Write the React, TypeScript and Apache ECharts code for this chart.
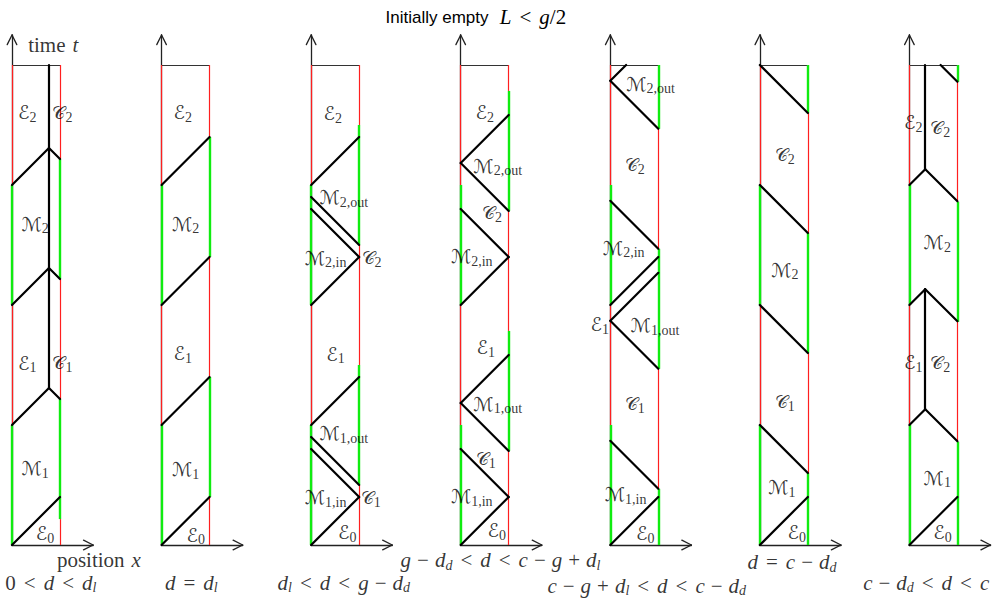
import React, { useEffect, useRef } from "react";
import * as echarts from "echarts";

// ---------------- data ----------------
// Each panel: wall colour segments [tStart, tEnd, colour], black world-lines [x1, t1, x2, t2],
// region labels [x, t, label] and a caption. x is position (0 = left wall, 1 = right wall), t is time.

const LEFT_WALL = [
  [[0, 2.5, "g"], [2.5, 5, "r"], [5, 7.5, "g"], [7.5, 10, "r"]],
  [[0, 2.5, "g"], [2.5, 5, "r"], [5, 7.5, "g"], [7.5, 10, "r"]],
  [[0, 2.5, "g"], [2.5, 5, "r"], [5, 7.5, "g"], [7.5, 10, "r"]],
  [[0, 2.5, "g"], [2.5, 5, "r"], [5, 7.5, "g"], [7.5, 10, "r"]],
  [[0, 2.5, "g"], [2.5, 5, "r"], [5, 7.5, "g"], [7.5, 10, "r"]],
  [[0, 2.5, "g"], [2.5, 5, "r"], [5, 7.5, "g"], [7.5, 10, "r"]],
  [[0, 2.5, "g"], [2.5, 5, "r"], [5, 7.5, "g"], [7.5, 10, "r"]],
];

const RIGHT_WALL = [
  [[0, 0.54, "r"], [0.54, 3.04, "g"], [3.04, 5.54, "r"], [5.54, 8.04, "g"], [8.04, 10, "r"]],
  [[0, 1, "r"], [1, 3.5, "g"], [3.5, 6, "r"], [6, 8.5, "g"], [8.5, 10, "r"]],
  [[0, 1.25, "r"], [1.25, 3.75, "g"], [3.75, 6.25, "r"], [6.25, 8.75, "g"], [8.75, 10, "r"]],
  [[0, 1.96, "r"], [1.96, 4.46, "g"], [4.46, 6.96, "r"], [6.96, 9.46, "g"], [9.46, 10, "r"]],
  [[0, 1.17, "g"], [1.17, 3.67, "r"], [3.67, 6.17, "g"], [6.17, 8.67, "r"], [8.67, 10, "g"]],
  [[0, 1.5, "g"], [1.5, 4, "r"], [4, 6.5, "g"], [6.5, 9, "r"], [9, 10, "g"]],
  [[0, 2.15, "g"], [2.15, 4.65, "r"], [4.65, 7.15, "g"], [7.15, 9.65, "r"], [9.65, 10, "g"]],
];

const WORLD_LINES = [
  [[0, 0, 1, 1], [0, 2.5, 0.77, 3.27], [0.77, 3.27, 1, 3.04], [0.77, 3.27, 0.77, 5.77],
   [0, 5, 0.77, 5.77], [0.77, 5.77, 1, 5.54], [0.77, 5.77, 0.77, 8.27],
   [0, 7.5, 0.77, 8.27], [0.77, 8.27, 1, 8.04], [0.77, 8.27, 0.77, 10]],
  [[0, 0, 1, 1], [0, 2.5, 1, 3.5], [0, 5, 1, 6], [0, 7.5, 1, 8.5]],
  [[0, 0, 1, 1], [1, 1, 0, 2], [0, 2.25, 1, 1.25], [0, 2.5, 1, 3.5],
   [0, 5, 1, 6], [1, 6, 0, 7], [0, 7.25, 1, 6.25], [0, 7.5, 1, 8.5]],
  [[0, 0, 1, 1], [1, 1, 0, 2], [0, 2.96, 1, 1.96], [0, 2.96, 1, 3.96],
   [0, 5, 1, 6], [1, 6, 0, 7], [0, 7.96, 1, 6.96], [0, 7.96, 1, 8.96]],
  [[0, 0, 1, 1], [0, 2.17, 1, 1.17], [0, 4.67, 1, 3.67], [0, 4.67, 1, 5.67],
   [0, 5, 1, 6], [0, 7.17, 1, 6.17], [0, 9.67, 1, 8.67], [0, 9.67, 0.33, 10]],
  [[0, 0, 1, 1], [0, 2.5, 1, 1.5], [0, 5, 1, 4], [0, 7.5, 1, 6.5], [0, 10, 1, 9]],
  [[0, 0, 1, 1], [0, 2.5, 0.33, 2.83], [0.33, 2.83, 1, 2.16], [0.33, 2.83, 0.33, 5.33],
   [0, 5, 0.33, 5.33], [0.33, 5.33, 1, 4.66],
   [0, 7.5, 0.33, 7.83], [0.33, 7.83, 1, 7.16], [0.33, 7.83, 0.33, 10], [0.65, 10, 1, 9.65]],
];

const REGION_LABELS = [
  [[0.32, 9.02, "E_2"], [1.05, 9.02, "C_2"], [0.48, 6.69, "M_2"], [0.32, 3.8, "E_1"],
   [1.05, 3.8, "C_1"], [0.48, 1.6, "M_1"], [0.69, 0.25, "E_0"]],
  [[0.44, 9.02, "E_2"], [0.5, 6.69, "M_2"], [0.44, 4.0, "E_1"], [0.5, 1.58, "M_1"], [0.71, 0.21, "E_0"]],
  [[0.45, 8.99, "E_2"], [0.68, 7.25, "M_{2,out}"], [0.3, 5.98, "M_{2,in}"], [1.26, 5.98, "C_2"],
   [0.51, 3.98, "E_1"], [0.68, 2.33, "M_{1,out}"], [0.3, 1.0, "M_{1,in}"], [1.24, 1.0, "C_1"],
   [0.75, 0.27, "E_0"]],
  [[0.5, 9.02, "E_2"], [0.77, 7.9, "M_{2,out}"], [0.65, 6.92, "C_2"], [0.23, 6.02, "M_{2,in}"],
   [0.52, 4.12, "E_1"], [0.77, 2.94, "M_{1,out}"], [0.52, 1.81, "C_1"], [0.23, 1.02, "M_{1,in}"],
   [0.75, 0.31, "E_0"]],
  [[0.84, 9.61, "M_{2,out}"], [0.51, 7.92, "C_2"], [0.28, 6.19, "M_{2,in}"], [-0.22, 4.6, "E_1"],
   [0.93, 4.58, "M_{1,out}"], [0.51, 2.94, "C_1"], [0.32, 1.06, "M_{1,in}"], [0.73, 0.25, "E_0"]],
  [[0.52, 8.13, "C_2"], [0.52, 5.73, "M_2"], [0.52, 2.98, "C_1"], [0.46, 1.2, "M_1"], [0.77, 0.27, "E_0"]],
  [[0.08, 8.81, "E_2"], [0.64, 8.7, "C_2"], [0.58, 6.31, "M_2"], [0.08, 3.81, "E_1"],
   [0.64, 3.81, "C_2"], [0.58, 1.4, "M_1"], [0.69, 0.27, "E_0"]],
];

const CAPTIONS = [
  "0 < d < d_l",
  "d = d_l",
  "d_l < d < g − d_d",
  "g − d_d < d < c − g + d_l",
  "c − g + d_l < d < c − d_d",
  "d = c − d_d",
  "c − d_d < d < c",
];
const CAPTION_POS = [
  [0.81, -0.79], [0.62, -0.79], [0.68, -0.79], [0.83, -0.32], [0.76, -0.85], [0.67, -0.36], [0.35, -0.79],
];

const TITLE_TEXT = "Initially empty";
const TITLE_MATH = "L < g/2";

// ---------------- layout ----------------
const WIDTH = 995;
const HEIGHT = 600;
const UNIT = 48; // px per unit
const ORIGIN_PX = 12;
const ORIGIN_PY = 545;
const PANEL_STEP = 3.116;
const T_TOP = 10;
const T_ARROW = 10.625;
const X_ARROW = 1.69;

const RED = "#ff1f1f";
const GREEN = "#10ec10";
const MATH_FONT = "'Liberation Serif', 'DejaVu Serif', serif";
const CAL_FONT = "'DejaVu Serif', 'DejaVu Sans', 'Noto Sans', serif";

const CAL: Record<string, string> = { E: "ℰ", M: "ℳ", C: "𝒞" };

function mathRich(src: string): string {
  let out = "";
  let i = 0;
  while (i < src.length) {
    const ch = src[i];
    if (ch === " ") { i++; continue; }
    if (ch === "_") {
      let sub = "";
      if (src[i + 1] === "{") {
        const j = src.indexOf("}", i);
        sub = src.slice(i + 2, j);
        i = j + 1;
      } else {
        sub = src[i + 1];
        i += 2;
      }
      out += /^[a-z]$/.test(sub) ? `{subit|${sub}}` : `{sub|${sub}}`;
      continue;
    }
    if (ch === "<" || ch === "=") { out += `{rel|${ch}}`; i++; continue; }
    if (ch === "−" || ch === "+") { out += `{bin|${ch}}`; i++; continue; }
    if (/[a-zA-Z]/.test(ch)) { out += `{it|${ch}}`; i++; continue; }
    out += `{rm|${ch}}`;
    i++;
  }
  return out;
}

function regionRich(src: string): string {
  const letter = CAL[src[0]] || src[0];
  const style = src[0] === "C" ? "calC" : "cal";
  return `{${style}|${letter}}` + mathRich(src.slice(1));
}

const LH = 24;
const RICH: any = {
  it: { fontFamily: MATH_FONT, fontStyle: "italic", fontSize: 21, lineHeight: LH, color: "#000" },
  rm: { fontFamily: MATH_FONT, fontSize: 21, lineHeight: LH, color: "#000" },
  rel: { fontFamily: MATH_FONT, fontSize: 21, lineHeight: LH, padding: [0, 8], color: "#000" },
  bin: { fontFamily: MATH_FONT, fontSize: 21, lineHeight: LH, padding: [0, 6], color: "#000" },
  cal: { fontFamily: CAL_FONT, fontSize: 19, lineHeight: LH, color: "#000" },
  calC: { fontFamily: CAL_FONT, fontSize: 18, lineHeight: LH, color: "#000" },
  sub: { fontFamily: MATH_FONT, fontSize: 14, lineHeight: 14, verticalAlign: "bottom", color: "#000" },
  subit: { fontFamily: MATH_FONT, fontStyle: "italic", fontSize: 14, lineHeight: 14, verticalAlign: "bottom", color: "#000" },
  word: { fontFamily: MATH_FONT, fontSize: 21, lineHeight: LH, padding: [0, 7, 0, 0], color: "#000" },
};

function px(p: number, x: number) {
  return p * PANEL_STEP + x;
}

export default function App() {
  const ref = useRef<HTMLDivElement>(null);
  useEffect(() => {
    if (!ref.current) return;
    const chart = echarts.init(ref.current, undefined, { renderer: "svg" });

    const axisData: any[] = [];
    const topData: any[] = [];
    const wallData: any[] = [];
    const blackData: any[] = [];
    const labelData: any[] = [];

    for (let p = 0; p < LEFT_WALL.length; p++) {
      const o = px(p, 0);
      axisData.push({ coords: [[o, 0], [o, T_ARROW]] });
      axisData.push({ coords: [[o - 0.1, T_ARROW - 0.2], [o, T_ARROW]] });
      axisData.push({ coords: [[o + 0.1, T_ARROW - 0.2], [o, T_ARROW]] });
      axisData.push({ coords: [[o, 0], [o + X_ARROW, 0]] });
      axisData.push({ coords: [[o + X_ARROW - 0.2, 0.1], [o + X_ARROW, 0]] });
      axisData.push({ coords: [[o + X_ARROW - 0.2, -0.1], [o + X_ARROW, 0]] });
      topData.push({ coords: [[o, T_TOP], [o + 1, T_TOP]] });

      for (const [x, walls] of [[0, LEFT_WALL[p]], [1, RIGHT_WALL[p]]] as any) {
        for (const [t1, t2, c] of walls) {
          wallData.push({
            coords: [[px(p, x), t1], [px(p, x), t2]],
            lineStyle: { color: c === "g" ? GREEN : RED, width: c === "g" ? 2.4 : 1.2 },
          });
        }
      }
      for (const [x1, t1, x2, t2] of WORLD_LINES[p]) {
        blackData.push({ coords: [[px(p, x1), t1], [px(p, x2), t2]] });
      }
      for (const [x, t, s] of REGION_LABELS[p] as any) {
        labelData.push({ value: [px(p, x), t], name: regionRich(s) });
      }
      labelData.push({ value: [px(p, CAPTION_POS[p][0]), CAPTION_POS[p][1]], name: mathRich(CAPTIONS[p]) });
    }
    labelData.push({ value: [0.86, 10.42], name: `{word|time}{it|t}` });
    labelData.push({ value: [1.81, -0.31], name: `{word|position}{it|x}` });

    const xMin = -ORIGIN_PX / UNIT;
    const yMax = ORIGIN_PY / UNIT;

    chart.setOption({
      animation: false,
      backgroundColor: "#fff",
      grid: { left: 0, right: 0, top: 0, bottom: 0 },
      xAxis: { type: "value", min: xMin, max: xMin + WIDTH / UNIT, show: false },
      yAxis: { type: "value", min: yMax - HEIGHT / UNIT, max: yMax, show: false },
      graphic: [
        {
          type: "text",
          x: 437,
          y: 17,
          style: {
            text: TITLE_TEXT,
            font: "17px 'Liberation Sans', Arial, sans-serif",
            fill: "#000",
            align: "center",
            verticalAlign: "middle",
          },
        },
        {
          type: "text",
          x: 533,
          y: 17,
          style: {
            text: mathRich(TITLE_MATH),
            rich: RICH,
            align: "center",
            verticalAlign: "middle",
          },
        },
      ],
      series: [
        {
          type: "lines",
          coordinateSystem: "cartesian2d",
          silent: true,
          z: 1,
          lineStyle: { color: "#222", width: 1.3, opacity: 1, cap: "round" },
          data: axisData,
        },
        {
          type: "lines",
          coordinateSystem: "cartesian2d",
          silent: true,
          z: 2,
          lineStyle: { color: "#333", width: 1, opacity: 1 },
          data: topData,
        },
        {
          type: "lines",
          coordinateSystem: "cartesian2d",
          silent: true,
          z: 3,
          lineStyle: { opacity: 1 },
          data: wallData,
        },
        {
          type: "lines",
          coordinateSystem: "cartesian2d",
          silent: true,
          z: 4,
          lineStyle: { color: "#000", width: 2.2, opacity: 1, cap: "round" },
          data: blackData,
        },
        {
          type: "scatter",
          silent: true,
          z: 5,
          symbolSize: 1,
          itemStyle: { color: "rgba(0,0,0,0)" },
          label: {
            show: true,
            position: "inside",
            formatter: (q: any) => q.name,
            rich: RICH,
          },
          data: labelData,
        },
      ],
    });
    return () => chart.dispose();
  }, []);

  return (
    <div
      ref={ref}
      style={{ position: "fixed", left: 0, top: 0, width: WIDTH, height: HEIGHT, background: "#fff" }}
    />
  );
}
